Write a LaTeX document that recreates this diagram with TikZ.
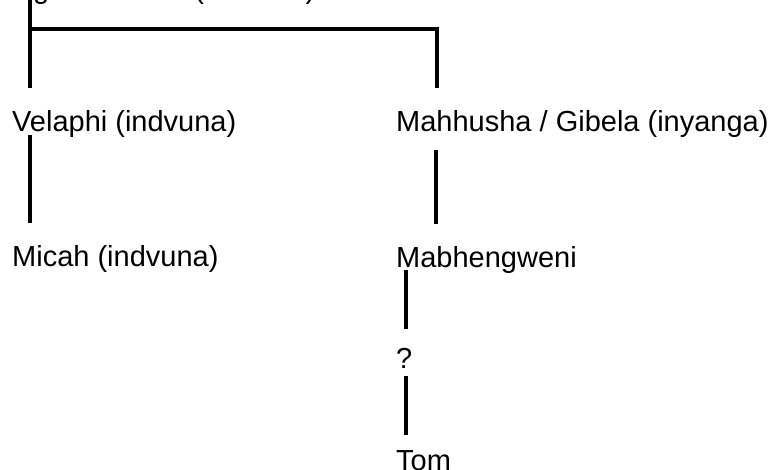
\documentclass[tikz,border=0pt]{standalone}
\usepackage{fontspec}
\setmainfont{Liberation Sans}
\begin{document}
\begin{tikzpicture}[x=1pt,y=-1pt,
  lbl/.style={anchor=base west,inner sep=0pt,font=\fontsize{29}{34}\selectfont},
  conn/.style={line width=3.5pt,line cap=butt,draw=black}]
\useasboundingbox (0,0) rectangle (774,470);
\clip (0,0) rectangle (774,470);
\node[lbl] (top) at (12,-1.5) {Ngwane Kota (indvuna)};
\node[lbl] (vel) at (12,131.5) {Velaphi (indvuna)};
\node[lbl] (mic) at (12,267) {Micah (indvuna)};
\node[lbl] (mah) at (396,132) {Mahhusha / Gibela (inyanga)};
\node[lbl] (mab) at (396,268) {Mabhengweni};
\node[lbl] (q) at (396,368) {?};
\node[lbl] (tom) at (396,470) {Tom};
\draw[conn] ([xshift=18pt]top.base west) -- ([xshift=18pt,yshift=43.5pt]vel.base west);
\draw[conn] ([xshift=18pt,yshift=-30.5pt]top.base west) -| ([xshift=41pt,yshift=44pt]mah.base west);
\draw[conn] ([xshift=18pt,yshift=-3.5pt]vel.base west) -- ([xshift=18pt,yshift=44pt]mic.base west);
\draw[conn] ([xshift=40pt,yshift=-18pt]mah.base west) -- ([xshift=40pt,yshift=44pt]mab.base west);
\draw[conn] ([xshift=10pt,yshift=-2pt]mab.base west) -- ([xshift=10pt,yshift=39pt]q.base west);
\draw[conn] ([xshift=10pt,yshift=-8pt]q.base west) -- ([xshift=10pt,yshift=35pt]tom.base west);
\end{tikzpicture}
\end{document}
